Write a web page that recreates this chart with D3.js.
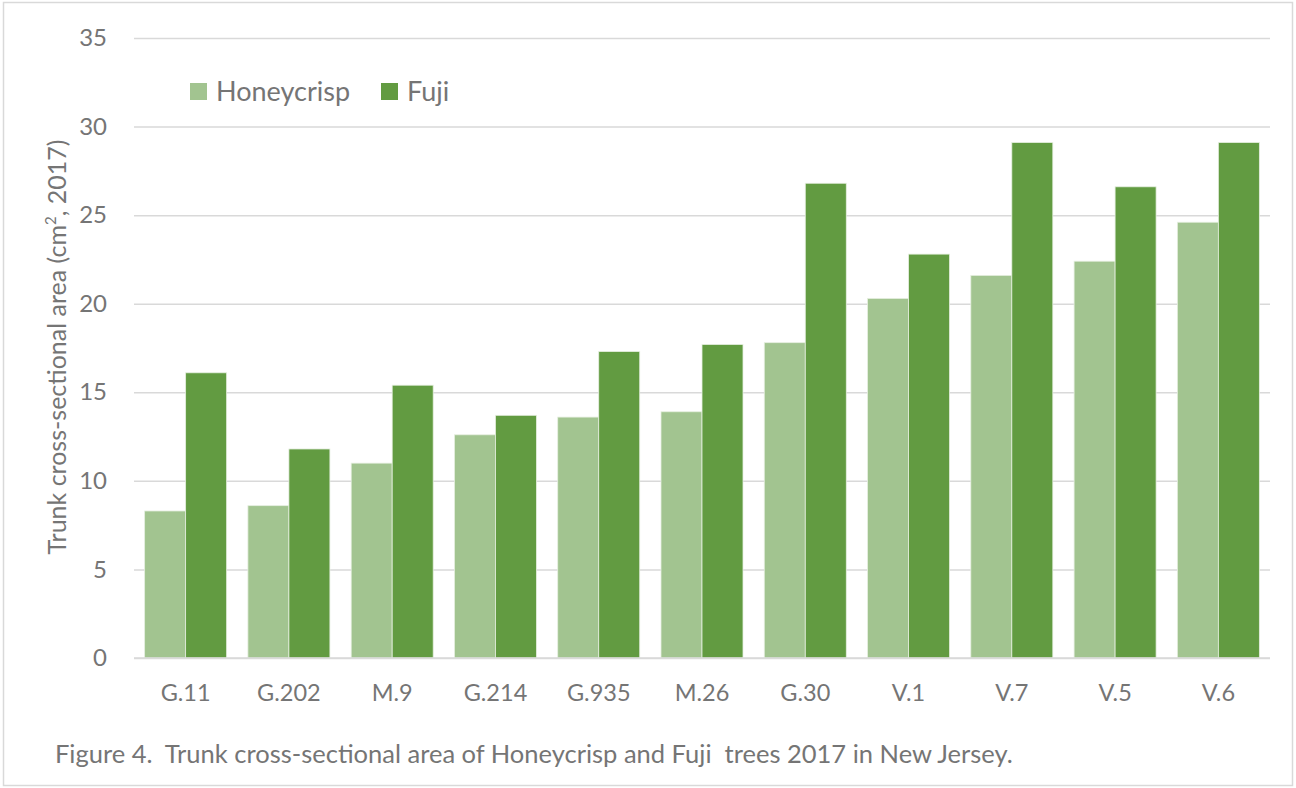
<!DOCTYPE html>
<html>
<head>
<meta charset="utf-8">
<script src="https://d3js.org/d3.v7.min.js"></script>
<style>
  html, body { margin: 0; padding: 0; background: #fff; }
  svg { display: block; font-family: Lato, "Open Sans", sans-serif; }
  text { white-space: pre; }
</style>
</head>
<body>
<svg id="chart" width="1296" height="788"></svg>
<script>
const categories = ["G.11", "G.202", "M.9", "G.214", "G.935", "M.26", "G.30", "V.1", "V.7", "V.5", "V.6"];
const seriesNames = ["Honeycrisp", "Fuji"];
const honeycrisp = [8.3, 8.6, 11.0, 12.6, 13.6, 13.9, 17.8, 20.3, 21.6, 22.4, 24.6];
const fuji = [16.1, 11.8, 15.4, 13.7, 17.3, 17.7, 26.8, 22.8, 29.1, 26.6, 29.1];
const yTicks = [0, 5, 10, 15, 20, 25, 30, 35];
const colors = ["#A2C490", "#629B41"];
const yLabel = "Trunk cross-sectional area (cm";
const caption = "Figure 4.  Trunk cross-sectional area of Honeycrisp and Fuji  trees 2017 in New Jersey.";

const svg = d3.select("#chart");
const textColor = "#757575";
const fontFam = "Lato, 'Open Sans', sans-serif";

svg.append("rect").attr("x", 3.5).attr("y", 2.5).attr("width", 1289).attr("height", 783)
  .attr("fill", "#fff").attr("stroke", "#d9d9d9").attr("stroke-width", 1.5);

const plotLeft = 134, plotRight = 1270, plotTop = 38, plotBottom = 658;
const y = d3.scaleLinear().domain([0, 35]).range([plotBottom, plotTop]);
const p = 0.206;
const x = d3.scaleBand().domain(categories).range([plotLeft, plotRight]).paddingInner(p).paddingOuter(p / 2);
const xs = d3.scaleBand().domain(seriesNames).range([0, x.bandwidth()]);

// gridlines
const yAxis = d3.axisLeft(y).tickValues(yTicks).tickSize(-(plotRight - plotLeft)).tickPadding(27).tickFormat(d3.format("d"));
const gy = svg.append("g").attr("transform", `translate(${plotLeft},0)`).call(yAxis);
gy.select(".domain").remove();
gy.selectAll(".tick line").attr("stroke", "#d9d9d9").attr("stroke-width", 1.5);
gy.selectAll(".tick text").attr("fill", textColor).attr("font-size", 24).attr("font-family", fontFam);

// bars
const data = categories.map((c, i) => ({ cat: c, vals: [honeycrisp[i], fuji[i]] }));
const groups = svg.append("g").selectAll("g").data(data).join("g")
  .attr("transform", d => `translate(${x(d.cat)},0)`);
groups.selectAll("rect").data(d => d.vals.map((v, j) => ({ name: seriesNames[j], v, j })))
  .join("rect")
  .attr("x", d => xs(d.name))
  .attr("width", xs.bandwidth())
  .attr("y", d => y(d.v))
  .attr("height", d => y(0) - y(d.v))
  .attr("fill", d => colors[d.j])
  .attr("stroke", "#e6efe0").attr("stroke-width", 0.8);

// baseline
svg.append("line").attr("x1", plotLeft).attr("x2", plotRight).attr("y1", plotBottom).attr("y2", plotBottom)
  .attr("stroke", "#d9d9d9").attr("stroke-width", 1.5);

// x axis labels
const xAxis = d3.axisBottom(x).tickSize(0).tickPadding(26);
const gx = svg.append("g").attr("transform", `translate(0,${plotBottom})`).call(xAxis);
gx.select(".domain").remove();
gx.selectAll(".tick text").attr("fill", textColor).attr("font-size", 23.5).attr("font-family", fontFam);

// y axis title
const yt = svg.append("text").attr("transform", `translate(66,347) rotate(-90)`)
  .attr("text-anchor", "middle").attr("fill", textColor).attr("font-size", 25);
yt.append("tspan").text(yLabel);
yt.append("tspan").text("2").attr("font-size", 15).attr("dy", -10);
yt.append("tspan").text(", 2017)").attr("dy", 10);

// legend
const legendX = [190, 381];
seriesNames.forEach((n, i) => {
  svg.append("rect").attr("x", legendX[i]).attr("y", 83).attr("width", 17).attr("height", 17).attr("fill", colors[i]);
  svg.append("text").attr("x", legendX[i] + 26).attr("y", 101).attr("fill", textColor)
    .attr("font-size", 27).text(n);
});

// caption
svg.append("text").attr("x", 55).attr("y", 763).attr("fill", textColor).attr("font-size", 25.5).text(caption);
</script>
</body>
</html>
